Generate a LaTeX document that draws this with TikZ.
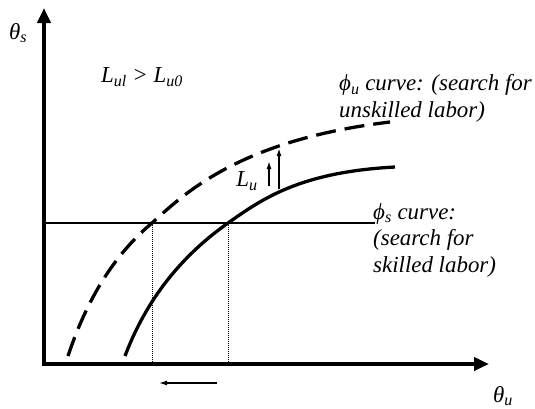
\documentclass[tikz,border=0pt]{standalone}
\usepackage{fontspec}
\setmainfont{Liberation Serif}
\usetikzlibrary{arrows.meta}

\begin{document}
\begin{tikzpicture}[x=1bp,y=-1bp,
  axis/.style={line width=3.8bp,line join=miter,{Triangle[length=15bp,width=13bp]}-{Triangle[length=15bp,width=13bp]}},
  curvelbl/.style={font=\fontsize{23}{26.5}\selectfont\itshape,inner sep=0pt,align=left},
  shiftarrow/.style={-{Latex[length=8bp,width=5bp]}}]
  \useasboundingbox (0,0) rectangle (535,408);

  % Axes
  \coordinate (origin) at (44,364);
  \coordinate (ytop) at (44,8);
  \coordinate (xend) at (489,364);
  \draw[axis] (ytop) -- (origin) -- (xend);
  \node[curvelbl] (thetaS) at (18,33) {θ\textsubscript{s}};
  \node[curvelbl] (thetaU) at (503,396) {θ\textsubscript{u}};

  % phi_s curve (horizontal)
  \coordinate (phisEnd) at (375,223);
  \draw[line width=2.6bp] (origin |- phisEnd) -- (phisEnd);

  % phi_u curves, old (solid) and new (dashed)
  \draw[line width=3.3bp] (125,356) .. controls (150,290) and (190,250) .. (228,223)
    .. controls (262,199) and (300,172) .. (395,167);
  \draw[line width=3.3bp,dash pattern=on 20bp off 9bp] (68,356) .. controls (90,290) and (120,250) .. (152,223)
    .. controls (185,193) and (240,140) .. (390,122);

  % Equilibria
  \coordinate (eqNew) at (152,223);
  \coordinate (eqOld) at (228,223);
  \draw[densely dotted,line width=1bp] (eqNew) -- (eqNew |- origin);
  \draw[densely dotted,line width=1bp] (eqOld) -- (eqOld |- origin);

  % Shifts
  \coordinate (smallA) at (269,186);
  \coordinate (smallB) at (269,161);
  \coordinate (bigA) at (279,189);
  \coordinate (bigB) at (279,148);
  \coordinate (leftA) at (217,383);
  \coordinate (leftB) at (159,383);
  \draw[shiftarrow,line width=1.5bp] (smallA) -- (smallB);
  \draw[shiftarrow,line width=2.2bp] (bigA) -- (bigB);
  \draw[shiftarrow,line width=1.3bp] (leftA) -- (leftB);

  % Labels
  \node[curvelbl] (cond) at (142,77) {L\textsubscript{ul} > L\textsubscript{u0}};
  \node[curvelbl] (Lu) at (247,181) {L\textsubscript{u}};
  \node[curvelbl,anchor=base west] (phiU) at (339,117)
    {ϕ\textsubscript{u} curve: (search for\\unskilled labor)};
  \node[curvelbl,anchor=base west] (phiS) at (373,272)
    {ϕ\textsubscript{s} curve:\\(search for\\skilled labor)};
\end{tikzpicture}
\end{document}
